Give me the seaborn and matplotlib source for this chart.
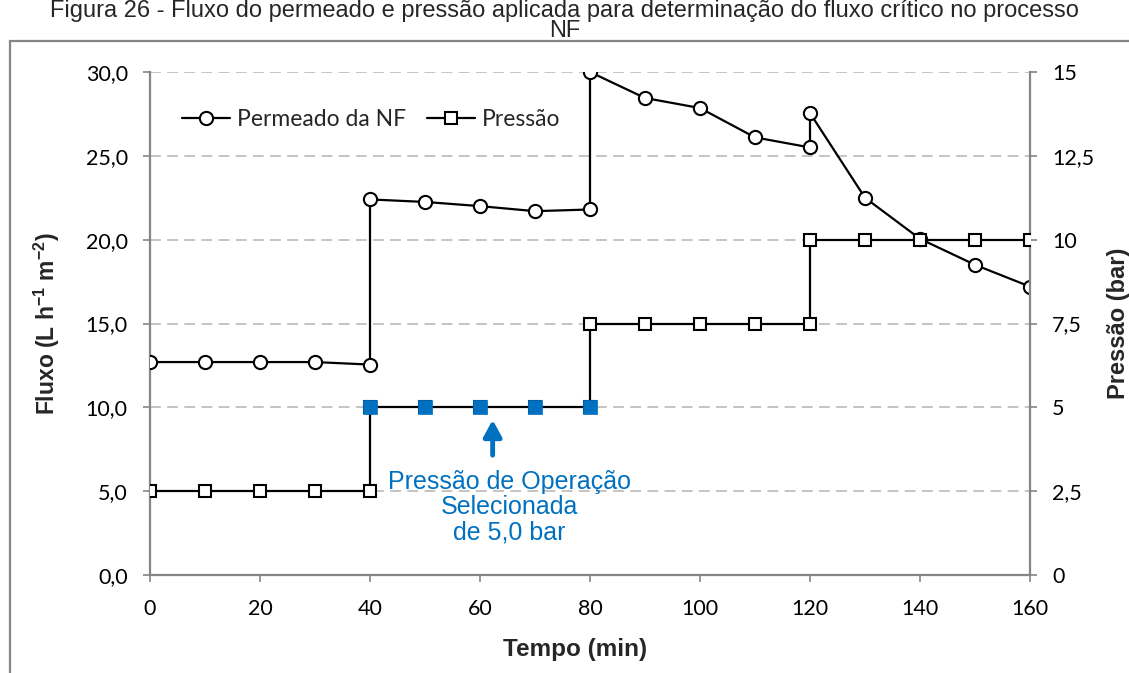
import matplotlib
matplotlib.use("Agg")
import matplotlib.pyplot as plt
import seaborn as sns
import pandas as pd
from matplotlib.patches import Rectangle
from matplotlib.lines import Line2D
from matplotlib.ticker import FixedLocator, FuncFormatter

# ---------------- data ----------------
tempo = [0, 10, 20, 30, 40, 40, 50, 60, 70, 80, 80, 90, 100, 110, 120, 120, 130, 140, 150, 160]
permeado = [12.7, 12.7, 12.7, 12.7, 12.55, 22.4, 22.25, 22.0, 21.7, 21.8,
            30.0, 28.45, 27.85, 26.1, 25.5, 27.55, 22.5, 20.05, 18.5, 17.2]
pressao = [2.5, 2.5, 2.5, 2.5, 2.5, 5, 5, 5, 5, 5,
           7.5, 7.5, 7.5, 7.5, 7.5, 10, 10, 10, 10, 10]
sel_tempo = [40, 50, 60, 70, 80]
sel_pressao = [5, 5, 5, 5, 5]

x_ticks = [0, 20, 40, 60, 80, 100, 120, 140, 160]
left_ticks = [0, 5, 10, 15, 20, 25, 30]
right_ticks = [0, 2.5, 5, 7.5, 10, 12.5, 15]

title = ("Figura 26 - Fluxo do permeado e pressão aplicada para determinação "
         "do fluxo crítico no processo\nNF")
annot = "Pressão de Operação\nSelecionada\nde 5,0 bar"

df_perm = pd.DataFrame({"t": tempo, "v": permeado})
df_pres = pd.DataFrame({"t": tempo, "v": pressao})
df_sel = pd.DataFrame({"t": sel_tempo, "v": sel_pressao})

# ---------------- style ----------------
sns.set_theme(style="white")
plt.rcParams["font.family"] = ["Lato", "DejaVu Sans"]
plt.rcParams["mathtext.fontset"] = "custom"
plt.rcParams["mathtext.rm"] = "Liberation Sans"
plt.rcParams["mathtext.bf"] = "Liberation Sans:bold"
ARIAL = ["Liberation Sans", "DejaVu Sans"]

GRAY = "#868686"
BLUE = "#0070C0"

fig = plt.figure(figsize=(11.29, 6.73), dpi=100)
ax = fig.add_axes([150 / 1129, 1 - 575 / 673, 880 / 1129, 503 / 673])
ax2 = ax.twinx()

# chart border
fig.patches.append(Rectangle((10 / 1129, -0.2), 1.2, 0.2 + 1 - 41 / 673,
                             transform=fig.transFigure, fill=False,
                             edgecolor=GRAY, linewidth=1.6, zorder=0))

# ---------------- series ----------------
sns.lineplot(data=df_perm, x="t", y="v", ax=ax, estimator=None, sort=False,
             color="black", linewidth=1.6, marker="o", markersize=9.5,
             markerfacecolor="white", markeredgecolor="black", markeredgewidth=1.5,
             zorder=3)
sns.lineplot(data=df_pres, x="t", y="v", ax=ax2, estimator=None, sort=False,
             color="black", linewidth=1.6, marker="s", markersize=9,
             markerfacecolor="white", markeredgecolor="black", markeredgewidth=1.5,
             zorder=3)
sns.scatterplot(data=df_sel, x="t", y="v", ax=ax2, marker="s", s=95,
                color=BLUE, edgecolor=BLUE, linewidth=0.5, zorder=4)

# ---------------- axes ----------------
ax.set_xlim(0, 160)
ax.set_ylim(0, 30)
ax2.set_ylim(0, 15)
ax.xaxis.set_major_locator(FixedLocator(x_ticks))
ax.yaxis.set_major_locator(FixedLocator(left_ticks))
ax2.yaxis.set_major_locator(FixedLocator(right_ticks))
ax.yaxis.set_major_formatter(FuncFormatter(lambda v, p: f"{v:.1f}".replace(".", ",")))
ax2.yaxis.set_major_formatter(FuncFormatter(
    lambda v, p: (f"{v:g}").replace(".", ",")))

for a in (ax, ax2):
    a.spines["top"].set_visible(False)
    for s in ("left", "right", "bottom"):
        a.spines[s].set_color(GRAY)
        a.spines[s].set_linewidth(1.6)
    a.set_facecolor("none")
ax2.spines["left"].set_visible(False)
ax2.spines["bottom"].set_visible(False)
ax.spines["right"].set_visible(False)

ax.tick_params(axis="both", direction="out", length=5, width=1.2, color=GRAY,
               labelsize=15.5, labelcolor="black")
ax.tick_params(axis="y", pad=11, left=True)
ax.tick_params(axis="x", pad=12, bottom=True)
ax2.tick_params(axis="y", direction="out", length=5, width=1.2, color=GRAY,
                labelsize=15.5, labelcolor="black", pad=11, right=True)

ax.grid(False)
ax2.grid(False)
for v in left_ticks[1:]:
    ax.axhline(v, color="#BFBFBF", linewidth=1.3, linestyle=(0, (6, 3.5)), zorder=0)

ax.set_xlabel("Tempo (min)", fontsize=17.5, fontweight="bold", family=ARIAL)
ax.xaxis.set_label_coords(0.483, -0.149)
ax.xaxis.label.set_va("center")
ax.set_ylabel("Fluxo (L h$^{\\mathbf{-1}}$ m$^{\\mathbf{-2}}$)", fontsize=16.5,
              fontweight="bold", family=ARIAL)
ax.yaxis.set_label_coords(-0.117, 0.5)
ax.yaxis.label.set_va("center")
ax2.set_ylabel("Pressão (bar)", fontsize=17, fontweight="bold", family=ARIAL)
ax2.yaxis.set_label_coords(1.1, 0.5)
ax2.yaxis.label.set_va("center")

ax2.set_zorder(ax.get_zorder() + 1)

# ---------------- legend ----------------
handles = [
    Line2D([], [], color="black", linewidth=1.6, marker="o", markersize=9.5,
           markerfacecolor="white", markeredgecolor="black", markeredgewidth=1.5),
    Line2D([], [], color="black", linewidth=1.6, marker="s", markersize=9,
           markerfacecolor="white", markeredgecolor="black", markeredgewidth=1.5),
]
leg = ax2.legend(handles, ["Permeado da NF", "Pressão"], loc="center left",
                 bbox_to_anchor=(0.018, 0.905), ncol=2, frameon=False,
                 fontsize=16.5, handlelength=2.1, handletextpad=0.3,
                 columnspacing=0.9, borderpad=0.2)

# ---------------- annotation ----------------
ax.annotate("", xy=(62.3, 9.25), xytext=(62.3, 7.15),
            arrowprops=dict(arrowstyle="-|>,head_length=0.55,head_width=0.3",
                            mutation_scale=18, color=BLUE, lw=3.5,
                            shrinkA=0, shrinkB=0))
ax.text(65.3, 4.05, annot, color=BLUE, fontsize=18, ha="center", va="center",
        linespacing=1.08, family=ARIAL)

# ---------------- title ----------------
fig.text(0.5, 1 - 0.5 / 673, title, ha="center", va="top", fontsize=17,
         linespacing=0.88, family=ARIAL)

fig.savefig("out.png", dpi=100)
